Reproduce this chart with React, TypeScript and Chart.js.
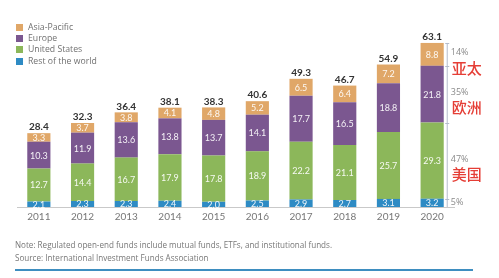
import React, { useEffect, useRef } from "react";
import { Chart, registerables } from "chart.js";

Chart.register(...registerables);

// Regulated open-end fund assets by region, trillions of USD
const years = ["2011", "2012", "2013", "2014", "2015", "2016", "2017", "2018", "2019", "2020"];
const restOfWorld = [2.1, 2.3, 2.3, 2.4, 2.0, 2.5, 2.9, 2.7, 3.1, 3.2];
const unitedStates = [12.7, 14.4, 16.7, 17.9, 17.8, 18.9, 22.2, 21.1, 25.7, 29.3];
const europe = [10.3, 11.9, 13.6, 13.8, 13.7, 14.1, 17.7, 16.5, 18.8, 21.8];
const asiaPacific = [3.3, 3.7, 3.8, 4.1, 4.8, 5.2, 6.5, 6.4, 7.2, 8.8];
const totals = [28.4, 32.3, 36.4, 38.1, 38.3, 40.6, 49.3, 46.7, 54.9, 63.1];

// 2020 shares, bottom segment first
const shareLabels = ["5%", "47%", "35%", "14%"];
const regionNames = ["", "美国", "欧洲", "亚太"];

const COLORS = {
  asia: "#e0a768",
  europe: "#7b5790",
  us: "#8cb75a",
  rest: "#2e8bc4",
};

const legendItems = [
  { label: "Asia-Pacific", color: COLORS.asia },
  { label: "Europe", color: COLORS.europe },
  { label: "United States", color: COLORS.us },
  { label: "Rest of the world", color: COLORS.rest },
];

const barLabels = {
  id: "barLabels",
  afterDatasetsDraw(chart: any) {
    const ctx = chart.ctx;
    ctx.save();
    ctx.textAlign = "center";
    ctx.textBaseline = "middle";

    // values inside each segment
    chart.data.datasets.forEach((ds: any, di: number) => {
      const meta = chart.getDatasetMeta(di);
      meta.data.forEach((bar: any, i: number) => {
        const p = bar.getProps(["x", "y", "base"], true);
        ctx.font = "9px Lato, 'Open Sans', sans-serif";
        ctx.fillStyle = "rgba(255,255,255,0.92)";
        ctx.fillText(Number(ds.data[i]).toFixed(1), p.x, (p.y + p.base) / 2 + 0.5);
      });
    });

    // totals above each stack
    const topMeta = chart.getDatasetMeta(chart.data.datasets.length - 1);
    topMeta.data.forEach((bar: any, i: number) => {
      const p = bar.getProps(["x", "y"], true);
      ctx.font = "bold 10px Lato, 'Open Sans', sans-serif";
      ctx.fillStyle = "#333";
      ctx.fillText(totals[i].toFixed(1), p.x, p.y - 6);
    });

    // share bracket beside the last stack
    const last = years.length - 1;
    const topBar = topMeta.data[last].getProps(["x", "y", "width"], true);
    const baseBar = chart.getDatasetMeta(0).data[last].getProps(["base"], true);
    const lx = topBar.x + topBar.width / 2 + 3;
    ctx.strokeStyle = "#b4bccb";
    ctx.lineWidth = 1;
    ctx.beginPath();
    ctx.moveTo(lx + 0.5, topBar.y);
    ctx.lineTo(lx + 0.5, baseBar.base);
    ctx.stroke();

    chart.data.datasets.forEach((_ds: any, di: number) => {
      const seg = chart.getDatasetMeta(di).data[last].getProps(["y", "base"], true);
      ctx.beginPath();
      ctx.moveTo(lx - 1.5, Math.round(seg.y) + 0.5);
      ctx.lineTo(lx + 2.5, Math.round(seg.y) + 0.5);
      ctx.stroke();
      const mid = (seg.y + seg.base) / 2;
      ctx.textAlign = "left";
      ctx.font = "9px 'Open Sans', sans-serif";
      ctx.fillStyle = "#8a8a8a";
      const py = di === 0 ? mid : mid - 1.5;
      ctx.fillText(shareLabels[di], lx + 4, py);
      if (regionNames[di]) {
        ctx.font = "500 15px 'Noto Sans CJK SC', sans-serif";
        ctx.fillStyle = "#e53e36";
        ctx.fillText(regionNames[di], lx + 5, py + 15);
      }
    });
    ctx.restore();
  },
};

export default function App() {
  const canvasRef = useRef<HTMLCanvasElement | null>(null);

  useEffect(() => {
    if (!canvasRef.current) return;
    const chart = new Chart(canvasRef.current, {
      type: "bar",
      data: {
        labels: years,
        datasets: [
          { label: "Rest of the world", data: restOfWorld, backgroundColor: COLORS.rest },
          { label: "United States", data: unitedStates, backgroundColor: COLORS.us },
          { label: "Europe", data: europe, backgroundColor: COLORS.europe },
          { label: "Asia-Pacific", data: asiaPacific, backgroundColor: COLORS.asia },
        ],
      },
      options: {
        responsive: false,
        animation: false,
        devicePixelRatio: 1,
        layout: { padding: { left: 17, right: 45, top: 12, bottom: 51 } },
        datasets: {
          bar: { barPercentage: 0.53, categoryPercentage: 1 },
        },
        plugins: {
          legend: { display: false },
          tooltip: { enabled: false },
        },
        scales: {
          x: {
            stacked: true,
            grid: { display: false, drawTicks: false },
            border: { display: true, color: "#c9c9c9", width: 1 },
            ticks: {
              color: "#777",
              padding: 4,
              font: { family: "Lato, 'Open Sans', sans-serif", size: 10 },
            },
            afterFit(scale: any) {
              scale.height = 20;
            },
          },
          y: {
            stacked: true,
            display: false,
            min: 0,
            max: 75,
          },
        },
      },
      plugins: [barLabels],
    });
    return () => chart.destroy();
  }, []);

  const textFont = "'Open Sans', sans-serif";

  return (
    <div style={{ position: "absolute", left: 0, top: 0, width: 499, height: 278, background: "#fff", overflow: "hidden" }}>
      <canvas ref={canvasRef} width={499} height={278} style={{ position: "absolute", left: 0, top: 0 }} />
      <div style={{ position: "absolute", left: 16, top: 22, fontFamily: textFont, fontSize: 8.7, color: "#707070", lineHeight: "11px" }}>
        {legendItems.map((it) => (
          <div key={it.label} style={{ display: "flex", alignItems: "center", height: 11.2 }}>
            <span style={{ display: "inline-block", width: 7, height: 7, background: it.color, marginRight: 5 }} />
            <span>{it.label}</span>
          </div>
        ))}
      </div>
      <div style={{ position: "absolute", left: 15, top: 237.5, fontFamily: textFont, fontSize: 8.1, color: "#777", lineHeight: "13px", whiteSpace: "nowrap" }}>
        <div>Note: Regulated open-end funds include mutual funds, ETFs, and institutional funds.</div>
        <div>Source: International Investment Funds Association</div>
      </div>
      <div style={{ position: "absolute", left: 15, top: 269, width: 458, height: 2, background: "#3e8ec0" }} />
    </div>
  );
}
